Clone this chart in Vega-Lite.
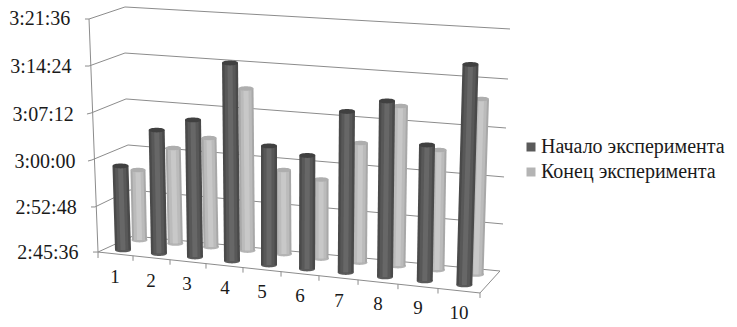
{"$schema":"https://vega.github.io/schema/vega-lite/v6.json","width":737,"height":327,"padding":0,"autosize":{"type":"none"},"background":"white","config":{"view":{"stroke":null}},
"datasets":{"bars":[
{"c":1,"s":"Конец эксперимента","xTop":18.72,"xBase":18.93,"top":10702,"base":10056},
{"c":2,"s":"Конец эксперимента","xTop":23.51,"xBase":23.79,"top":10905,"base":10024},
{"c":3,"s":"Конец эксперимента","xTop":28.36,"xBase":28.63,"top":10998,"base":9991},
{"c":4,"s":"Конец эксперимента","xTop":33.38,"xBase":33.58,"top":11455,"base":9959},
{"c":5,"s":"Конец эксперимента","xTop":38.47,"xBase":38.53,"top":10702,"base":9927},
{"c":6,"s":"Конец эксперимента","xTop":43.56,"xBase":43.56,"top":10615,"base":9885},
{"c":7,"s":"Конец эксперимента","xTop":48.91,"xBase":48.78,"top":10951,"base":9848},
{"c":8,"s":"Конец эксперимента","xTop":54.34,"xBase":54.0,"top":11293,"base":9816},
{"c":9,"s":"Конец эксперимента","xTop":59.57,"xBase":59.29,"top":10887,"base":9779},
{"c":10,"s":"Конец эксперимента","xTop":65.33,"xBase":64.59,"top":11358,"base":9738},
{"c":1,"s":"Начало эксперимента","xTop":16.35,"xBase":16.69,"top":10739,"base":9964},
{"c":2,"s":"Начало эксперимента","xTop":21.26,"xBase":21.57,"top":11071,"base":9931},
{"c":3,"s":"Начало эксперимента","xTop":26.19,"xBase":26.46,"top":11164,"base":9899},
{"c":4,"s":"Начало эксперимента","xTop":31.21,"xBase":31.48,"top":11690,"base":9862},
{"c":5,"s":"Начало эксперимента","xTop":36.5,"xBase":36.5,"top":10924,"base":9825},
{"c":6,"s":"Начало эксперимента","xTop":41.7,"xBase":41.66,"top":10836,"base":9788},
{"c":7,"s":"Начало эксперимента","xTop":47.08,"xBase":46.91,"top":11242,"base":9756},
{"c":8,"s":"Начало эксперимента","xTop":52.51,"xBase":52.24,"top":11339,"base":9715},
{"c":9,"s":"Начало эксперимента","xTop":57.94,"xBase":57.63,"top":10933,"base":9678},
{"c":10,"s":"Начало эксперимента","xTop":63.84,"xBase":63.0,"top":11676,"base":9641}
],
"grid":[
{"x":16.96,"x2":69.2,"y":12207,"y2":12004},
{"x":16.96,"x2":68.93,"y":11782,"y2":11542},
{"x":17.1,"x2":68.66,"y":11358,"y2":11090},
{"x":17.37,"x2":68.39,"y":10933,"y2":10638},
{"x":17.64,"x2":68.25,"y":10518,"y2":10204},
{"x":18.05,"x2":67.84,"y":10093,"y2":9770},
{"x":12.08,"x2":16.96,"y":12096,"y2":12207},
{"x":12.08,"x2":16.96,"y":11662,"y2":11782},
{"x":12.35,"x2":17.1,"y":11228,"y2":11358},
{"x":12.48,"x2":17.37,"y":10795,"y2":10933},
{"x":12.89,"x2":17.64,"y":10361,"y2":10518},
{"x":13.3,"x2":18.05,"y":9945,"y2":10093},
{"x":12.08,"x2":13.3,"y":12096,"y2":9945},
{"x":13.3,"x2":65.13,"y":9945,"y2":9567},
{"x":65.13,"x2":67.84,"y":9567,"y2":9770},
{"x":11.53,"x2":12.08,"y":12096,"y2":12096},
{"x":11.53,"x2":12.08,"y":11662,"y2":11662},
{"x":11.8,"x2":12.35,"y":11219,"y2":11228},
{"x":11.94,"x2":12.48,"y":10785,"y2":10795},
{"x":12.35,"x2":12.89,"y":10361,"y2":10361},
{"x":12.62,"x2":13.3,"y":9945,"y2":9945},
{"x":13.3,"x2":13.3,"y":9945,"y2":9890},
{"x":18.05,"x2":18.05,"y":9910,"y2":9864},
{"x":23.07,"x2":23.07,"y":9874,"y2":9828},
{"x":27.95,"x2":27.95,"y":9838,"y2":9792},
{"x":32.97,"x2":32.97,"y":9801,"y2":9755},
{"x":38.13,"x2":38.13,"y":9764,"y2":9718},
{"x":43.28,"x2":43.28,"y":9727,"y2":9680},
{"x":48.58,"x2":48.58,"y":9688,"y2":9642},
{"x":54.0,"x2":54.0,"y":9648,"y2":9602},
{"x":59.43,"x2":59.43,"y":9608,"y2":9562},
{"x":65.13,"x2":65.13,"y":9567,"y2":9521}
],
"ylabels":[
{"t":"3:21:36","x":9.55,"y":12096},
{"t":"3:14:24","x":9.7,"y":11653},
{"t":"3:07:12","x":10.0,"y":11210},
{"t":"3:00:00","x":10.25,"y":10776},
{"t":"2:52:48","x":10.4,"y":10351},
{"t":"2:45:36","x":10.65,"y":9936}
],
"xlabels":[
{"t":"1","x":15.6,"y":9715},
{"t":"2","x":20.49,"y":9678},
{"t":"3","x":25.37,"y":9650},
{"t":"4","x":30.53,"y":9613},
{"t":"5","x":35.55,"y":9576},
{"t":"6","x":40.71,"y":9539},
{"t":"7","x":46.0,"y":9493},
{"t":"8","x":51.29,"y":9465},
{"t":"9","x":56.72,"y":9428},
{"t":"10","x":62.28,"y":9382}
]},
"data":{"name":"bars"},
"layer":[
{"data":{"name":"grid"},"mark":{"type":"rule","stroke":"#8c8c8c","strokeWidth":1},"encoding":{"x":{"field":"x","type":"quantitative","scale":{"domain":[0,100],"nice":false,"zero":false},"axis":null},"x2":{"field":"x2"},"y":{"field":"y","type":"quantitative","scale":{"domain":[9253,12271.4],"nice":false,"zero":false},"axis":null},"y2":{"field":"y2"}}},
{"data":{"name":"ylabels"},"mark":{"type":"text","align":"right","baseline":"middle","font":"Liberation Serif","fontSize":20,"fill":"#1a1a1a"},"encoding":{"x":{"field":"x","type":"quantitative"},"y":{"field":"y","type":"quantitative"},"text":{"field":"t"}}},
{"data":{"name":"xlabels"},"mark":{"type":"text","align":"center","baseline":"middle","font":"Liberation Serif","fontSize":19,"fill":"#1a1a1a"},"encoding":{"x":{"field":"x","type":"quantitative"},"y":{"field":"y","type":"quantitative"},"text":{"field":"t"}}},
{"mark":{"type":"point","filled":true,"opacity":1,"shape":"M-1,0 C-1,-0.4 1,-0.4 1,0 C1,0.4 -1,0.4 -1,0 Z","size":256},"encoding":{"x":{"field":"xBase","type":"quantitative"},"y":{"field":"base","type":"quantitative"},"color":{"field":"s","type":"nominal","scale":{"domain":["Начало эксперимента","Конец эксперимента"],"range":["#5a5a5a","#b4b4b4"]},"legend":{"title":null,"orient":"none","legendX":521,"legendY":137,"symbolType":"square","symbolSize":81,"symbolOpacity":1,"labelFont":"Liberation Serif","labelFontSize":20,"labelColor":"#1a1a1a","labelOffset":0,"rowPadding":5,"labelLimit":220}}}},
{"transform":[{"filter":"datum.s==='Конец эксперимента'"}],"mark":{"type":"rule","stroke":"#a8a8a8","strokeWidth":15},"encoding":{"x":{"field":"xTop","type":"quantitative"},"x2":{"field":"xBase"},"y":{"field":"top","type":"quantitative"},"y2":{"field":"base"}}},
{"transform":[{"filter":"datum.s==='Конец эксперимента'"}],"mark":{"type":"rule","stroke":"#bbbbbb","strokeWidth":11},"encoding":{"x":{"field":"xTop","type":"quantitative"},"x2":{"field":"xBase"},"y":{"field":"top","type":"quantitative"},"y2":{"field":"base"}}},
{"transform":[{"filter":"datum.s==='Конец эксперимента'"}],"mark":{"type":"rule","stroke":"#c8c8c8","strokeWidth":5},"encoding":{"x":{"field":"xTop","type":"quantitative"},"x2":{"field":"xBase"},"y":{"field":"top","type":"quantitative"},"y2":{"field":"base"}}},
{"transform":[{"filter":"datum.s==='Конец эксперимента'"}],"mark":{"type":"point","filled":true,"opacity":1,"fill":"#aeaeae","shape":"M-1,0 C-1,-0.4 1,-0.4 1,0 C1,0.4 -1,0.4 -1,0 Z","size":225},"encoding":{"x":{"field":"xTop","type":"quantitative"},"y":{"field":"top","type":"quantitative"}}},
{"transform":[{"filter":"datum.s==='Начало эксперимента'"}],"mark":{"type":"rule","stroke":"#4a4a4a","strokeWidth":16},"encoding":{"x":{"field":"xTop","type":"quantitative"},"x2":{"field":"xBase"},"y":{"field":"top","type":"quantitative"},"y2":{"field":"base"}}},
{"transform":[{"filter":"datum.s==='Начало эксперимента'"}],"mark":{"type":"rule","stroke":"#585858","strokeWidth":11},"encoding":{"x":{"field":"xTop","type":"quantitative"},"x2":{"field":"xBase"},"y":{"field":"top","type":"quantitative"},"y2":{"field":"base"}}},
{"transform":[{"filter":"datum.s==='Начало эксперимента'"}],"mark":{"type":"rule","stroke":"#676767","strokeWidth":5},"encoding":{"x":{"field":"xTop","type":"quantitative"},"x2":{"field":"xBase"},"y":{"field":"top","type":"quantitative"},"y2":{"field":"base"}}},
{"transform":[{"filter":"datum.s==='Начало эксперимента'"}],"mark":{"type":"point","filled":true,"opacity":1,"fill":"#404040","shape":"M-1,0 C-1,-0.4 1,-0.4 1,0 C1,0.4 -1,0.4 -1,0 Z","size":256},"encoding":{"x":{"field":"xTop","type":"quantitative"},"y":{"field":"top","type":"quantitative"}}}
]}
